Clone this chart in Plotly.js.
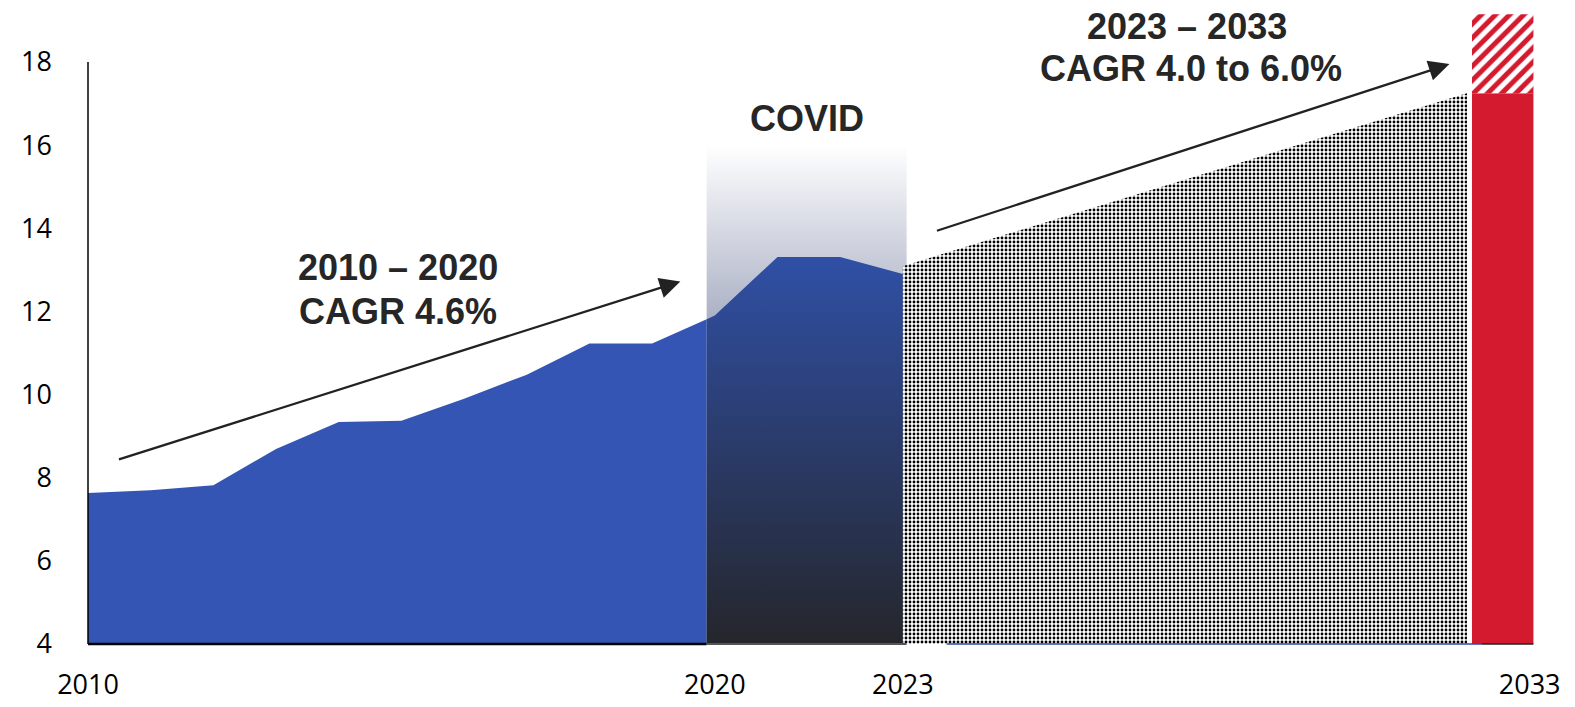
<!DOCTYPE html>
<html>
<head>
<meta charset="utf-8">
<script src="https://cdn.plot.ly/plotly-3.0.1.min.js"></script>
<style>
html,body{margin:0;padding:0;background:#fff;}
#chart{width:1575px;height:707px;}
</style>
</head>
<body>
<div id="chart"></div>
<script>
// ---- data ----
const years = [2010, 2011, 2012, 2013, 2014, 2015, 2016, 2017, 2018, 2019, 2020, 2021, 2022, 2023];
const values = [7.63, 7.70, 7.82, 8.69, 9.34, 9.37, 9.90, 10.48, 11.23, 11.23, 11.90, 13.31, 13.31, 12.90];
const projYears = [2023, 2032];
const projValues = [13.09, 17.25];
const barYears = [2033];
const barLow = [17.25];
const barHigh = [19.15];
const xTickYears = [2010, 2020, 2023, 2033];
const yTickValues = [4, 6, 8, 10, 12, 14, 16, 18];
const yMin = 4;
const covidStart = 2019.87, covidEnd = 2023.06, covidTop = 16;

// ---- helpers ----
function valueAt(x) {
  for (let i = 0; i < years.length - 1; i++) {
    if (x >= years[i] && x <= years[i + 1]) {
      const t = (x - years[i]) / (years[i + 1] - years[i]);
      return values[i] + t * (values[i + 1] - values[i]);
    }
  }
  return values[values.length - 1];
}
function closePoly(xs, ys) {
  return { x: xs.concat([xs[xs.length - 1], xs[0], xs[0]]), y: ys.concat([yMin, yMin, ys[0]]) };
}

// solid (pre-covid) part
const sx = [], sy = [];
years.forEach((yr, i) => { if (yr < covidStart) { sx.push(yr); sy.push(values[i]); } });
sx.push(covidStart); sy.push(valueAt(covidStart));
const solid = closePoly(sx, sy);

// covid part
const cx = [covidStart], cy = [valueAt(covidStart)];
years.forEach((yr, i) => { if (yr > covidStart) { cx.push(yr); cy.push(values[i]); } });
const cov = closePoly(cx, cy);

const proj = closePoly(projYears, projValues);

const red = '#d41a2e';

const traces = [
  { // covid band
    type: 'scatter', mode: 'lines', line: { width: 0 }, hoverinfo: 'skip',
    x: [covidStart, covidEnd, covidEnd, covidStart, covidStart],
    y: [yMin, yMin, covidTop, covidTop, yMin],
    fill: 'toself',
    fillgradient: { type: 'vertical', start: yMin, stop: covidTop,
      colorscale: [[0, '#8990ab'], [0.66, '#adb3c7'], [1, '#ffffff']] }
  },
  { // historical solid area
    type: 'scatter', mode: 'lines', line: { width: 0 }, hoverinfo: 'skip',
    x: solid.x, y: solid.y, fill: 'toself', fillcolor: '#3455b4'
  },
  { // covid-period area with gradient
    type: 'scatter', mode: 'lines', line: { width: 0 }, hoverinfo: 'skip',
    x: cov.x, y: cov.y, fill: 'toself',
    fillgradient: { type: 'vertical', start: yMin, stop: Math.max.apply(null, cy),
      colorscale: [[0, '#25262b'], [1, '#3050a6']] }
  },
  { // projection dotted area
    type: 'scatter', mode: 'lines', line: { width: 0 }, hoverinfo: 'skip',
    x: proj.x, y: proj.y, fill: 'toself', fillcolor: '#ffffff',
    fillpattern: { shape: '.', fgcolor: '#000000', bgcolor: '#ffffff', size: 4, solidity: 0.4 }
  },
  { // red solid bar
    type: 'bar', x: barYears, base: barLow.map(() => yMin), y: barLow.map(v => v - yMin),
    offset: -0.92, width: 0.98, marker: { color: red, line: { width: 0 } }, hoverinfo: 'skip'
  },
  { // red hatched range
    type: 'bar', x: barYears, base: barLow, y: barHigh.map((v, i) => v - barLow[i]),
    offset: -0.92, width: 0.98,
    marker: { color: red, line: { width: 0 },
      pattern: { shape: '/', fgcolor: red, bgcolor: '#ffffff', size: 10, solidity: 0.5 } },
    hoverinfo: 'skip'
  }
];

const txtFont = { family: 'Liberation Sans, Arial, sans-serif', size: 36, color: '#262626', weight: 'bold' };
function label(text, x, y) {
  return { text: '<b>' + text + '</b>', x: x, y: y, xref: 'x', yref: 'y', showarrow: false,
    xanchor: 'center', yanchor: 'middle', font: txtFont };
}
function arrow(x0, y0, x1, y1) {
  return { text: '', x: x1, y: y1, ax: x0, ay: y0, xref: 'x', yref: 'y', axref: 'x', ayref: 'y',
    showarrow: true, arrowhead: 2, arrowsize: 1.8, arrowwidth: 2.3, arrowcolor: '#222222', standoff: 0, startstandoff: 0 };
}

const layout = {
  width: 1575, height: 707,
  margin: { l: 88, r: 13.5, t: 8, b: 63, pad: 0 },
  paper_bgcolor: '#ffffff', plot_bgcolor: '#ffffff',
  showlegend: false, hovermode: false, barmode: 'overlay',
  xaxis: {
    range: [2010, 2033.5], showgrid: false, zeroline: false, showline: false, ticks: '',
    tickmode: 'array', tickvals: xTickYears, ticktext: xTickYears.map(String),
    tickfont: { family: 'Open Sans, sans-serif', size: 27, color: '#000000' },
    ticklabelstandoff: 22
  },
  yaxis: {
    range: [yMin, 19.3], showgrid: false, zeroline: false, showline: false, ticks: '',
    tickmode: 'array', tickvals: yTickValues, ticktext: yTickValues.map(String),
    tickfont: { family: 'Open Sans, sans-serif', size: 27, color: '#000000' },
    ticklabelstandoff: 35
  },
  shapes: [
    { type: 'line', xref: 'paper', yref: 'y', x0: 0, x1: 0, y0: yMin, y1: 18, line: { color: '#000000', width: 1.5 } },
    { type: 'line', xref: 'x', yref: 'paper', x0: 2010, x1: covidStart, y0: 0, y1: 0, line: { color: '#000000', width: 2.5 } },
    { type: 'line', xref: 'x', yref: 'paper', x0: covidStart, x1: covidEnd, y0: 0, y1: 0, line: { color: '#555555', width: 2 } },
    { type: 'line', xref: 'x', yref: 'paper', x0: 2023.7, x1: 2032.23, y0: 0, y1: 0, line: { color: '#2a4aa8', width: 1.5 } },
    { type: 'line', xref: 'x', yref: 'paper', x0: 2032.23, x1: 2033.06, y0: 0, y1: 0, line: { color: '#222222', width: 1.5 } }
  ],
  annotations: [
    arrow(2010.47, 8.43, 2019.45, 12.72),
    arrow(2023.52, 13.93, 2031.72, 17.95),
    label('2010 – 2020', 2014.95, 13.05),
    label('CAGR 4.6%', 2014.95, 12.0),
    label('COVID', 2021.47, 16.64),
    label('2023 – 2033', 2027.53, 18.86),
    label('CAGR 4.0 to 6.0%', 2027.59, 17.84)
  ]
};

Plotly.newPlot('chart', traces, layout, { displayModeBar: false, staticPlot: true });
</script>
</body>
</html>
